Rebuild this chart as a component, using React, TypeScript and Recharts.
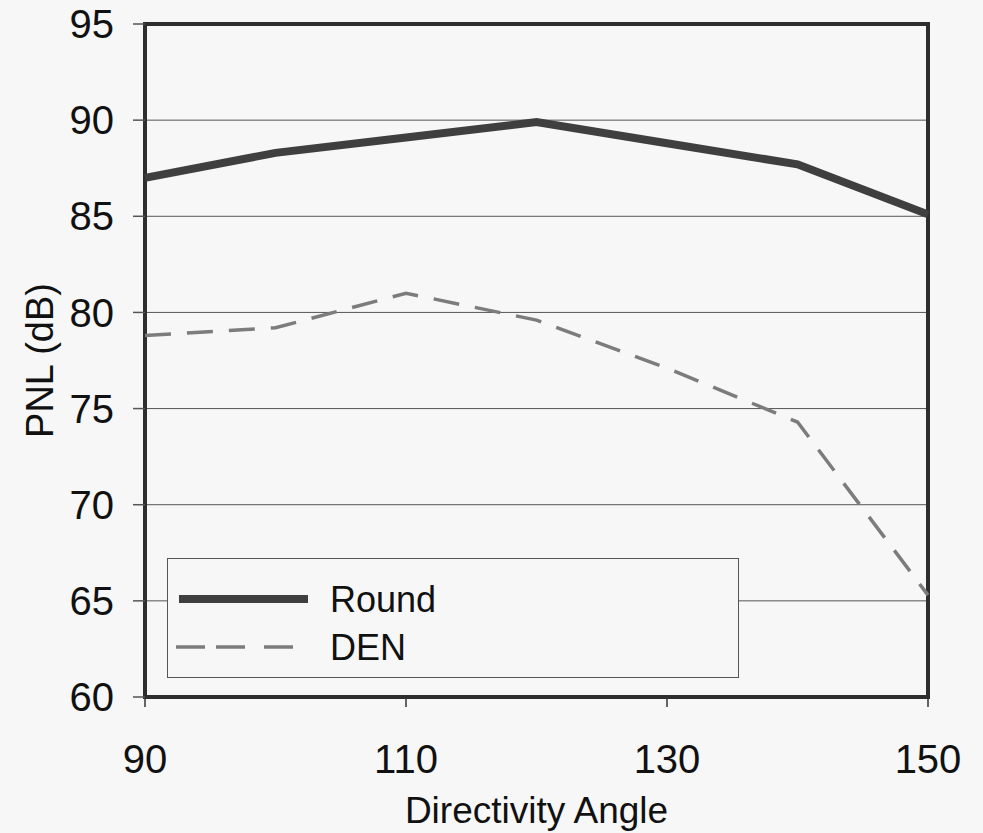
import React from "react";
import {
  LineChart,
  Line,
  XAxis,
  YAxis,
  CartesianGrid,
  ReferenceArea,
} from "recharts";

// Directivity angle (deg) vs PNL (dB)
const angles = [90, 100, 110, 120, 130, 140, 150];
const roundPnl = [87.0, 88.3, 89.1, 89.9, 88.8, 87.7, 85.1];
const denPnl = [78.8, 79.2, 81.0, 79.6, 77.1, 74.3, 65.3];
const seriesNames = ["Round", "DEN"];
const xTicks = [90, 110, 130, 150];
const yTicks = [60, 65, 70, 75, 80, 85, 90, 95];

const data = angles.map((a, i) => ({ angle: a, round: roundPnl[i], den: denPnl[i] }));

const FONT = "'Liberation Sans', Arial, Helvetica, sans-serif";
const BG = "#f7f7f7";
const ROUND_COLOR = "#3f3f3f";
const DEN_COLOR = "#7c7c7c";

const YTitle = (props: any) => {
  const { viewBox } = props;
  const cx = viewBox.x + 40;
  const cy = viewBox.y + viewBox.height / 2;
  return (
    <text x={cx} y={cy} transform={`rotate(-90 ${cx} ${cy})`} textAnchor="middle" dominantBaseline="central"
      fontSize={38} fill="#111" fontFamily={FONT}>
      PNL (dB)
    </text>
  );
};

const XTitle = (props: any) => {
  const { viewBox } = props;
  return (
    <text x={viewBox.x + viewBox.width / 2} y={viewBox.y + 126} textAnchor="middle"
      fontSize={37} fill="#111" fontFamily={FONT}>
      Directivity Angle
    </text>
  );
};

const LegendBox = () => (
  <div
    style={{
      position: "absolute",
      left: 167,
      top: 558,
      width: 572,
      height: 120,
      boxSizing: "border-box",
      border: "1.5px solid #555",
      background: BG,
      fontFamily: FONT,
    }}
  >
    <svg width={570} height={118} style={{ position: "absolute", left: 0, top: 0 }}>
      <line x1={11} x2={140} y1={40} y2={40} stroke={ROUND_COLOR} strokeWidth={8} />
      <line x1={8} x2={127} y1={88} y2={88} stroke={DEN_COLOR} strokeWidth={3.5} strokeDasharray="29 11 29 19" />
      <text x={162} y={40} dominantBaseline="central" fontSize={36} fill="#111" fontFamily={FONT}>
        {seriesNames[0]}
      </text>
      <text x={162} y={88} dominantBaseline="central" fontSize={36} fill="#111" fontFamily={FONT}>
        {seriesNames[1]}
      </text>
    </svg>
  </div>
);

export default function App() {
  return (
    <div style={{ position: "absolute", left: 0, top: 0, width: 983, height: 833, background: BG }}>
      <LineChart width={983} height={833} data={data} margin={{ top: 24, right: 55, bottom: 0, left: 0 }}>
        <CartesianGrid vertical={false} stroke="#555" strokeWidth={1} />
        <XAxis
          dataKey="angle"
          type="number"
          domain={[90, 150]}
          ticks={xTicks}
          height={136}
          axisLine={false}
          tickLine={{ stroke: "#333", strokeWidth: 1.5 }}
          tickSize={10}
          tickMargin={38}
          tick={{ fontSize: 40, fill: "#111", fontFamily: FONT }}
          label={<XTitle />}
        />
        <YAxis
          type="number"
          domain={[60, 95]}
          ticks={yTicks}
          width={145}
          axisLine={false}
          tickLine={{ stroke: "#555", strokeWidth: 1.5 }}
          tickSize={12}
          tickMargin={19}
          tick={{ fontSize: 40, fill: "#111", fontFamily: FONT }}
          label={<YTitle />}
        />
        <Line
          dataKey="round"
          name={seriesNames[0]}
          stroke={ROUND_COLOR}
          strokeWidth={8}
          dot={false}
          type="linear"
          isAnimationActive={false}
        />
        <Line
          dataKey="den"
          name={seriesNames[1]}
          stroke={DEN_COLOR}
          strokeWidth={3.5}
          strokeDasharray="26 16"
          dot={false}
          type="linear"
          isAnimationActive={false}
        />
        <ReferenceArea x1={90} x2={150} y1={60} y2={95} fill="none" stroke="#2e2e2e" strokeWidth={4} ifOverflow="visible" />
      </LineChart>
      <LegendBox />
    </div>
  );
}
